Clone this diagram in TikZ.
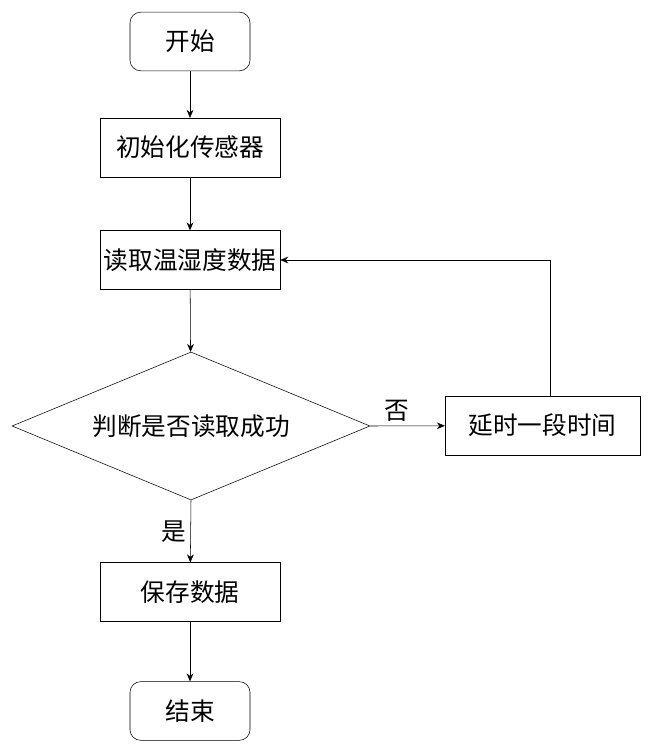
\documentclass[tikz,border=0pt]{standalone}
\usepackage{fontspec}
\newfontfamily\cjk{Noto Sans CJK SC}
\usetikzlibrary{arrows.meta,shapes.geometric,positioning}
\tikzset{
  base/.style={draw, font=\cjk\fontsize{18.5}{22}\selectfont, inner sep=0pt},
  startstop/.style={base, rounded corners=8pt, minimum width=90pt, minimum height=44pt},
  procbox/.style={base, minimum width=135pt, minimum height=44pt},
  decide/.style={base, diamond, minimum width=268.5pt, minimum height=111pt, aspect=2.4},
  flow/.style={-{Stealth[length=6pt,width=5pt]}, thin}
}
\begin{document}
\begin{tikzpicture}[x=0.75pt,y=-0.75pt]
  \useasboundingbox (0,0) rectangle (650,746);
  \node[startstop] (start) at (190,41.5) {开始};
  \node[procbox] (init) at (190,147.5) {初始化传感器};
  \node[procbox] (read) at (190,260) {读取温湿度数据};
  \node[decide] (check) at (191,426) {判断是否读取成功};
  \node[procbox, minimum width=146pt] (delay) at (542.5,425.5) {延时一段时间};
  \node[procbox] (save) at (190,592) {保存数据};
  \node[startstop] (stop) at (190,711) {结束};
  \draw[flow] (start) -- (init);
  \draw[flow] (init) -- (read);
  \draw[flow] (read) -- (check);
  \draw[flow] (check.south) -- node[pos=0.5, left, font=\cjk\fontsize{18.5}{22}\selectfont]{是} (save);
  \draw[flow] (check.east) -- node[pos=0.35, above, font=\cjk\fontsize{18.5}{22}\selectfont]{否} (delay);
  \draw[flow] (save) -- (stop);
  \draw[flow] (delay.north) ++(8,0) coordinate (up) |- (read.east);
\end{tikzpicture}
\end{document}
